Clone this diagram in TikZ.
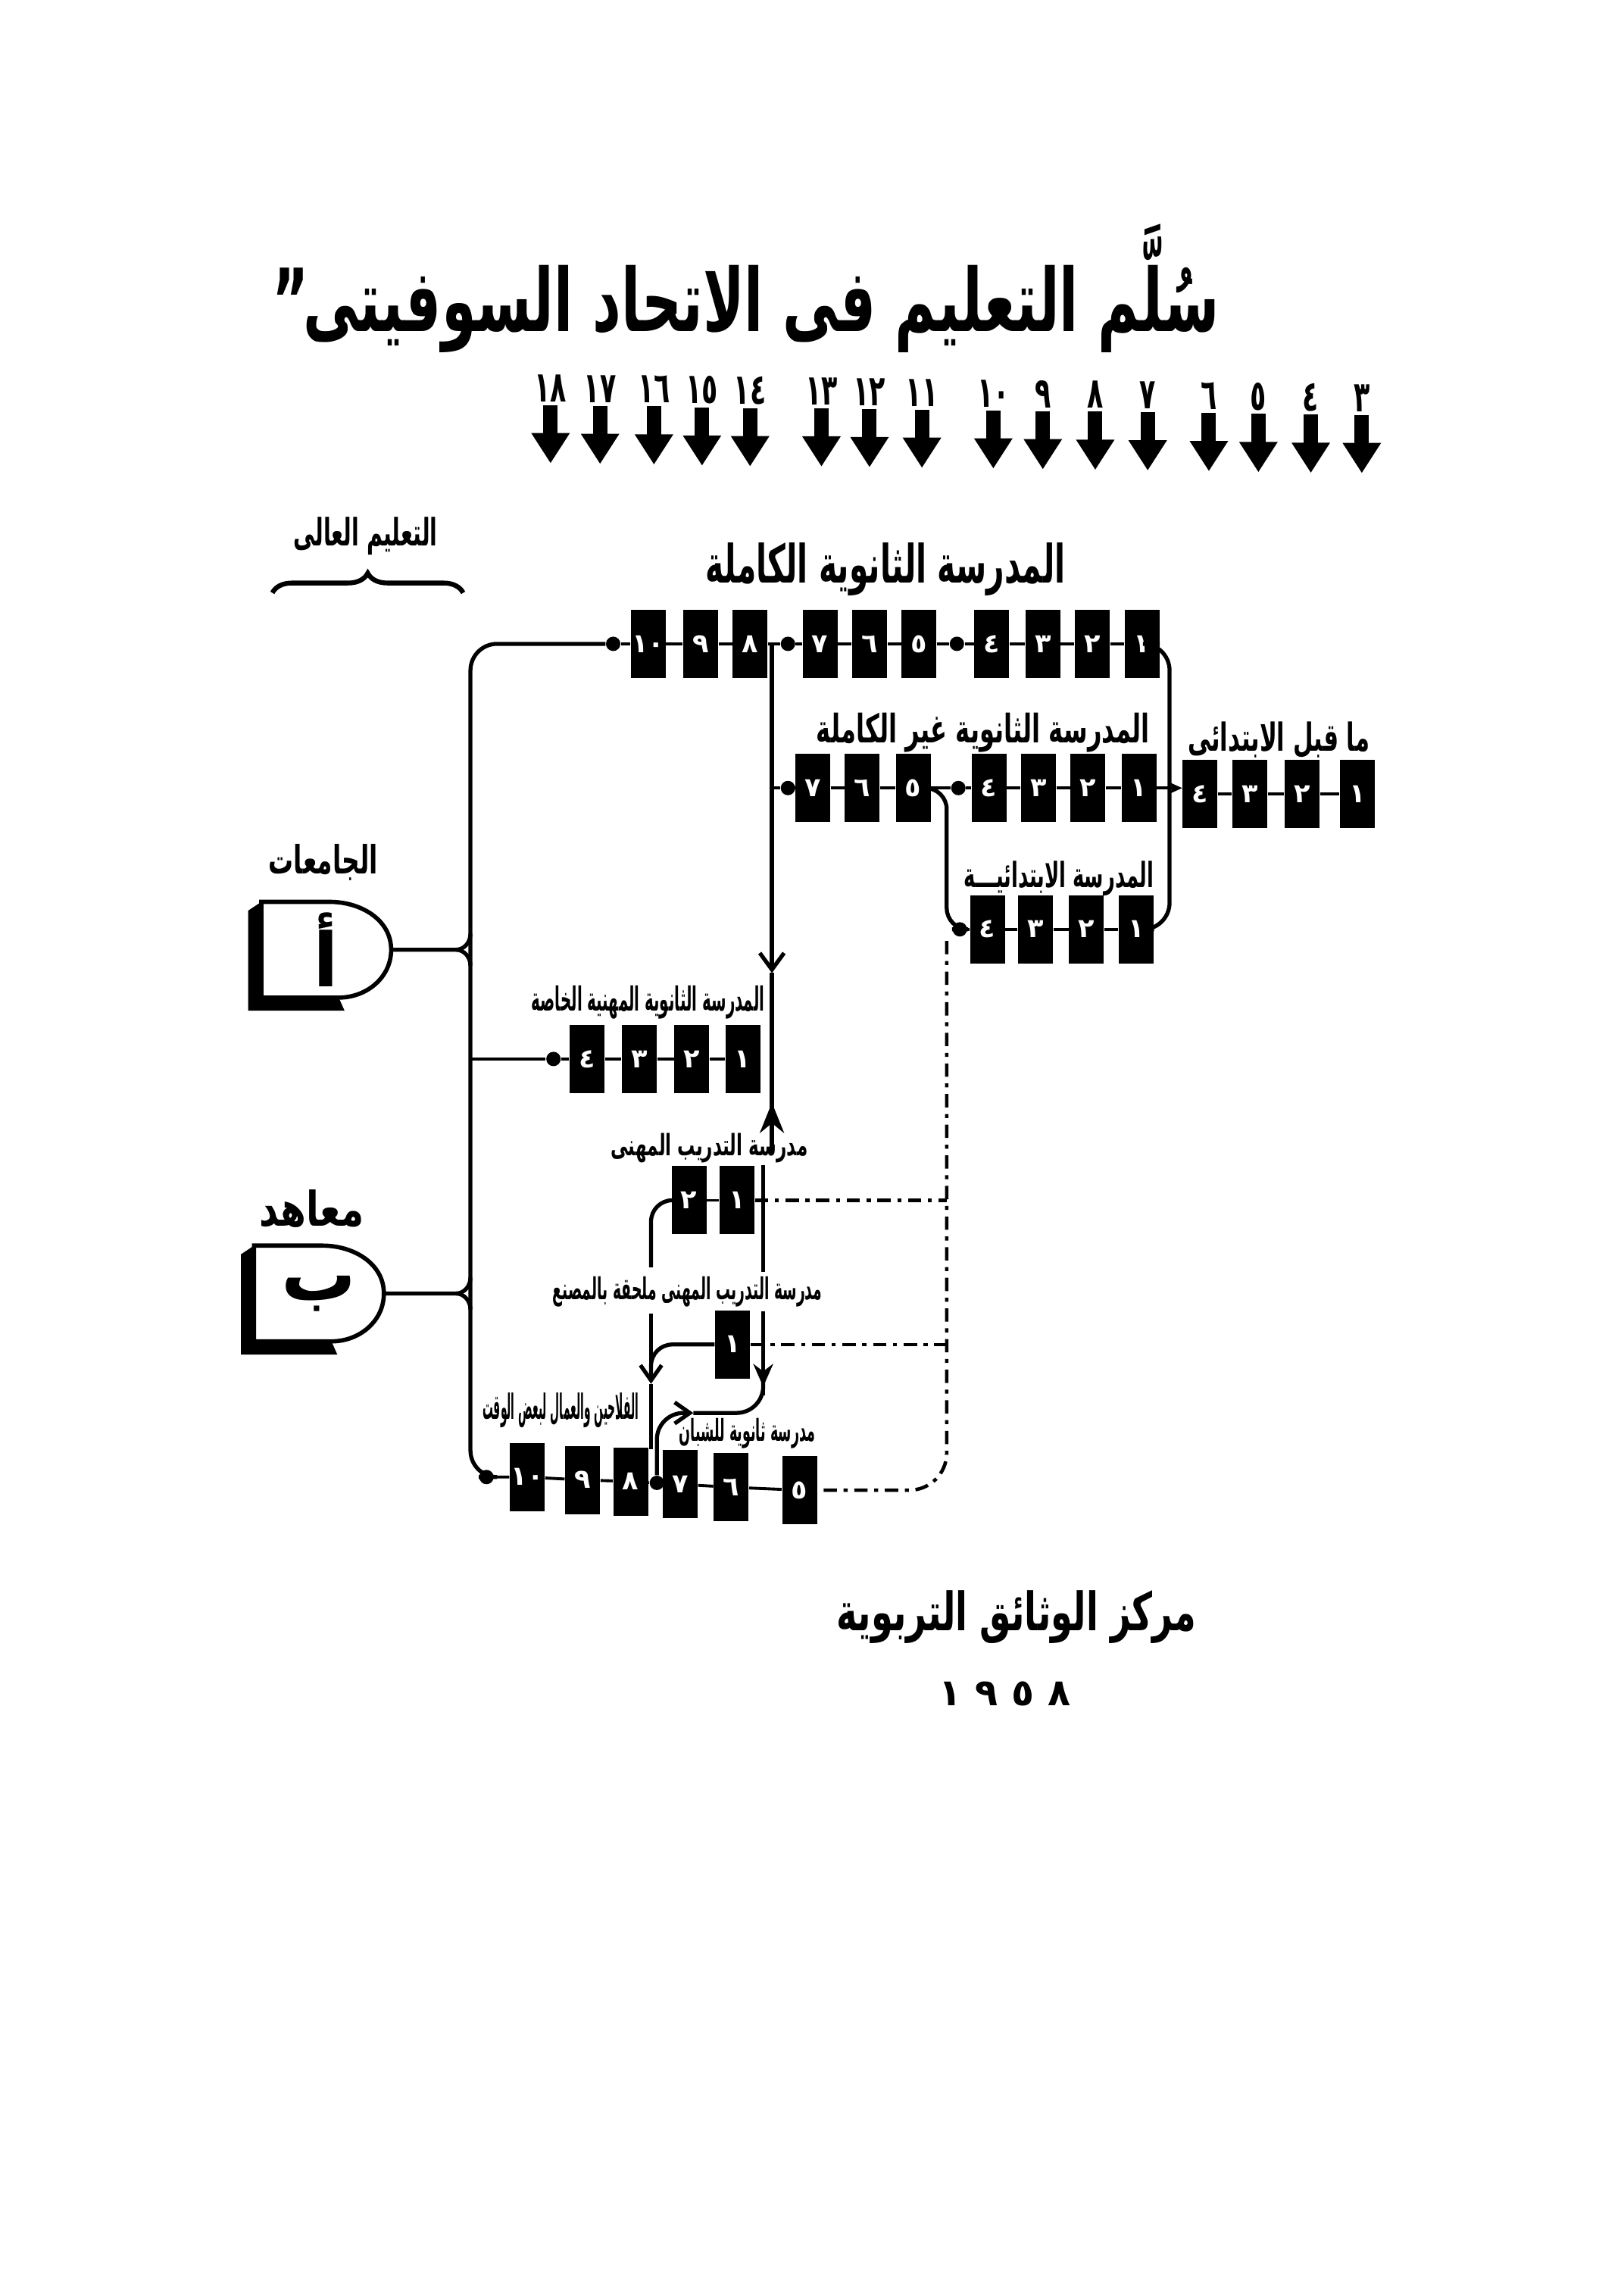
\documentclass[tikz,border=0pt]{standalone}
\usepackage{fontspec}
\usepackage{graphicx}
\newfontfamily\arabicfont[Script=Arabic]{DejaVu Sans}
\TeXXeTstate=1
\usetikzlibrary{arrows.meta,calc,decorations.pathreplacing}
\newcommand{\arfit}[3]{\resizebox*{#1}{#2}{\arabicfont\bfseries #3}}

\begin{document}
\begin{tikzpicture}[x=0.1923mm, y=-0.1923mm,
    grade/.style={rectangle, fill=black, text=white, inner sep=0pt,
                  minimum width=4.6mm, minimum height=9mm,
                  font=\arabicfont\bfseries\fontsize{10}{10}\selectfont},
    knot/.style={circle, fill=black, inner sep=0pt, minimum size=1.9mm},
    lbl/.style={inner sep=0pt},
    age/.style={inner sep=0pt, font=\arabicfont\bfseries\fontsize{16}{16}\selectfont},
    agearrow/.style={line width=1.9mm, -{Triangle[length=4mm,width=4.8mm]}},
    rail/.style={line width=1.1pt},
    trunk/.style={line width=1.5pt},
    linkdash/.style={line width=1.3pt, dash pattern=on 5pt off 2.5pt on 1.5pt off 2.5pt},
    gate/.style={inner sep=0pt, minimum width=17mm, minimum height=12.5mm,
                 font=\arabicfont\bfseries\fontsize{28}{28}\selectfont}
  ]
  \fill[white] (0,0) rectangle (1115,1568);
  \useasboundingbox (0,0) rectangle (1115,1568);

  % Title
  \node[lbl] (title) at (512,198) {\arfit{125mm}{17mm}{\beginR سُلَّم التعليم فى الاتحاد السوفيتى\kern-1pt”\endR}};

  % Age scale
  \foreach \x/\n/\d [count=\k] in {378/18/١٨, 412/17/١٧, 449/16/١٦, 482/15/١٥, 515/14/١٤,
      564/13/١٣, 597/12/١٢, 633/11/١١, 682/10/١٠, 716/9/٩, 752/8/٨, 788/7/٧,
      830/6/٦, 864/5/٥, 900/4/٤, 935/3/٣} {
    \node[age] (age\n) at (\x,{266+0.45*\k}) {\scalebox{0.62}[1]{\d}};
    \draw[agearrow] (age\n.south) ++(0,2) -- ++(0,40);
  }

  % Higher education
  \node[lbl] (higher) at (251,368) {\arfit{19mm}{5mm}{\beginR التعليم العالى\endR}};
  \draw[line width=1.8pt, decorate, decoration={brace, amplitude=2.6mm}] (187,407) -- (318,407);

  % Full secondary school
  \node[lbl] (fullname) at (608,391) {\arfit{47.5mm}{7mm}{\beginR المدرسة الثانوية الكاملة\endR}};
  \foreach \x/\n/\d in {445/10/١٠, 481/9/٩, 515/8/٨, 563/7/٧, 597/6/٦, 631/5/٥,
      681/4/٤, 716/3/٣, 750/2/٢, 784/1/١}
    \node[grade] (full\n) at (\x,442) {\d};
  \node[knot] (fk1) at (421,442) {};
  \node[knot] (fk2) at (541,442) {};
  \node[knot] (fk3) at (657,442) {};
  \draw[rail] (fk1) -- (full10) -- (full9) -- (full8) -- (fk2) -- (full7) -- (full6)
    -- (full5) -- (fk3) -- (full4) -- (full3) -- (full2) -- (full1);

  % Incomplete secondary school
  \node[lbl] (partname) at (675,503) {\arfit{44mm}{5.2mm}{\beginR المدرسة الثانوية غير الكاملة\endR}};
  \foreach \x/\n/\d in {558/7/٧, 592/6/٦, 627/5/٥, 679/4/٤, 713/3/٣, 747/2/٢, 782/1/١}
    \node[grade] (part\n) at (\x,541) {\d};
  \node[knot] (pk1) at (541,541) {};
  \node[knot] (pk2) at (658,541) {};
  \draw[rail] (pk1) -- (part7) -- (part6) -- (part5) -- (pk2) -- (part4) -- (part3)
    -- (part2) -- (part1);

  % Pre-school
  \node[lbl] (prename) at (878,508) {\arfit{24mm}{4.8mm}{\beginR ما قبل الابتدائى\endR}};
  \foreach \x/\n/\d in {824/4/٤, 858/3/٣, 894/2/٢, 932/1/١}
    \node[grade] (pre\n) at (\x,545) {\d};
  \draw[rail] (pre4) -- (pre3) -- (pre2) -- (pre1);
  \draw[rail, -{Stealth[length=1.8mm,width=1.6mm]}] (part1) -- (part1 -| pre4.west);

  % Primary school
  \node[lbl] (primname) at (727,603) {\arfit{25mm}{4.6mm}{\beginR المدرسة الابتدائيـــة\endR}};
  \foreach \x/\n/\d in {678/4/٤, 711/3/٣, 746/2/٢, 780/1/١}
    \node[grade] (prim\n) at (\x,638) {\d};
  \node[knot] (mk) at (659,638) {};
  \draw[rail] (mk) -- (prim4) -- (prim3) -- (prim2) -- (prim1);
  \draw[trunk, rounded corners=8] (part5) -| (650,638) -- (mk);
  \draw[trunk, rounded corners=10] (full1) -| (803,638) -- (prim1);

  % Universities and institutes
  \node[lbl] (uniname) at (222,592) {\arfit{14.4mm}{4.8mm}{\beginR الجامعات\endR}};
  \node[gate] (uni) at (224,652) {أ};
  \node[lbl] (instname) at (214,830) {\arfit{13.8mm}{5mm}{\beginR معاهد\endR}};
  \node[gate] (inst) at (219,888) {ب};
  \foreach \g in {uni,inst} {
    \fill (\g.north west) -- (\g.south west) -- ($(\g.south east)+(-36,0)$)
      -- ($(\g.south east)+(-32,9)$) -- ($(\g.south west)+(-9,9)$)
      -- ($(\g.north west)+(-9,6)$) -- cycle;
    \draw[line width=1.6pt] (\g.north west) -- ($(\g.north east)+(-42,0)$)
      to[out=0,in=90] (\g.east) to[out=-90,in=0] ($(\g.south east)+(-36,0)$)
      -- (\g.south west) -- cycle;
  }

  % Special vocational secondary school
  \node[lbl] (vocname) at (445,688) {\arfit{30.8mm}{4.4mm}{\beginR المدرسة الثانوية المهنية الخاصة\endR}};
  \foreach \x/\n/\d in {403/4/٤, 439/3/٣, 475/2/٢, 510/1/١}
    \node[grade] (voc\n) at (\x,727) {\d};
  \node[knot] (vk) at (380,727) {};
  \draw[rail] (vk) -- (voc4) -- (voc3) -- (voc2) -- (voc1);

  % Vocational training school
  \node[lbl] (trainname) at (487,788) {\arfit{26mm}{3.9mm}{\beginR مدرسة التدريب المهنى\endR}};
  \node[grade] (train2) at (473,824) {٢};
  \node[grade] (train1) at (506,824) {١};
  \draw[rail] (train2) -- (train1);

  % Factory training school
  \node[lbl] (factname) at (472,887) {\arfit{35.6mm}{4mm}{\beginR مدرسة التدريب المهنى ملحقة بالمصنع\endR}};
  \node[grade] (fact1) at (503,923) {١};

  % Part-time schools
  \node[lbl] (workname) at (385,968) {\arfit{20.6mm}{4.6mm}{\beginR الفلاحين والعمال لبعض الوقت\endR}};
  \node[lbl] (youthname) at (513,984) {\arfit{18mm}{4mm}{\beginR مدرسة ثانوية للشبان\endR}};
  \foreach \x/\n/\d/\y in {362/10/١٠/1014, 400/9/٩/1016, 433/8/٨/1017,
      467/7/٧/1019, 502/6/٦/1021, 549/5/٥/1023}
    \node[grade] (youth\n) at (\x,\y) {\d};
  \node[knot] (yk1) at (334,1014) {};
  \node[knot] (yk2) at (451,1018) {};
  \draw[rail] (yk1) -- (youth10) -- (youth9) -- (youth8) -- (yk2) -- (youth7)
    -- (youth6) -- (youth5);

  % Left trunk to higher education
  \coordinate (spine) at (323,700);
  \draw[trunk, rounded corners=10] (fk1) -| (spine |- yk1) -- (yk1);
  \draw[rail] (vk) -- (vk -| spine);
  \foreach \g in {uni,inst} {
    \coordinate (fork) at ($(\g.east -| spine)+(-10,0)$);
    \draw[trunk] (\g.east) -- (fork) to[out=0,in=-90] ($(fork)+(10,-11)$);
    \draw[trunk] (fork) to[out=0,in=90] ($(fork)+(10,11)$);
  }

  % Links between schools
  \coordinate (split) at (530,442);
  \draw[trunk, -{Straight Barb[length=2.2mm,width=3.2mm]}] (split) -- (530,668);
  \draw[trunk] (530,668) -- (530,790);
  \draw[trunk, -{Stealth[length=4mm,width=3.2mm]}] (530,792) -- (530,757);
  \draw[rail] (split |- pk1) -- (pk1);

  \coordinate (rise) at (524,800);
  \draw[trunk] (rise) -- (524,873);
  \draw[trunk] (524,900) -- (524,958);
  \draw[trunk, rounded corners=10, -{Straight Barb[length=2mm,width=2.8mm]}] (yk2) |- (476,970);
  \draw[trunk, rounded corners=10, -{Stealth[length=3mm,width=2.6mm]}] (476,970) -| (524,952);

  \draw[trunk, rounded corners=8] (train2) -| (447,870);
  \draw[trunk, rounded corners=8] (fact1) -| (447,945);
  \draw[trunk, -{Straight Barb[length=2mm,width=2.8mm]}] (447,902) -- (447,950);
  \draw[trunk] (447,950) -- (447,995);

  % Dashed links
  \coordinate (drop) at (650,646);
  \draw[linkdash, rounded corners=14] (drop) |- (youth5);
  \draw[linkdash] (train1) -- (train1 -| drop);
  \draw[linkdash] (fact1) -- (fact1 -| drop);

  % Footer
  \node[lbl] (centre) at (698,1110) {\arfit{47.5mm}{7mm}{\beginR مركز الوثائق التربوية\endR}};
  \node[lbl, font=\arabicfont\bfseries\fontsize{14}{14}\selectfont] (year) at (690,1163)
    {١\hspace{1.8mm}٩\hspace{1.8mm}٥\hspace{1.8mm}٨};
\end{tikzpicture}
\end{document}
